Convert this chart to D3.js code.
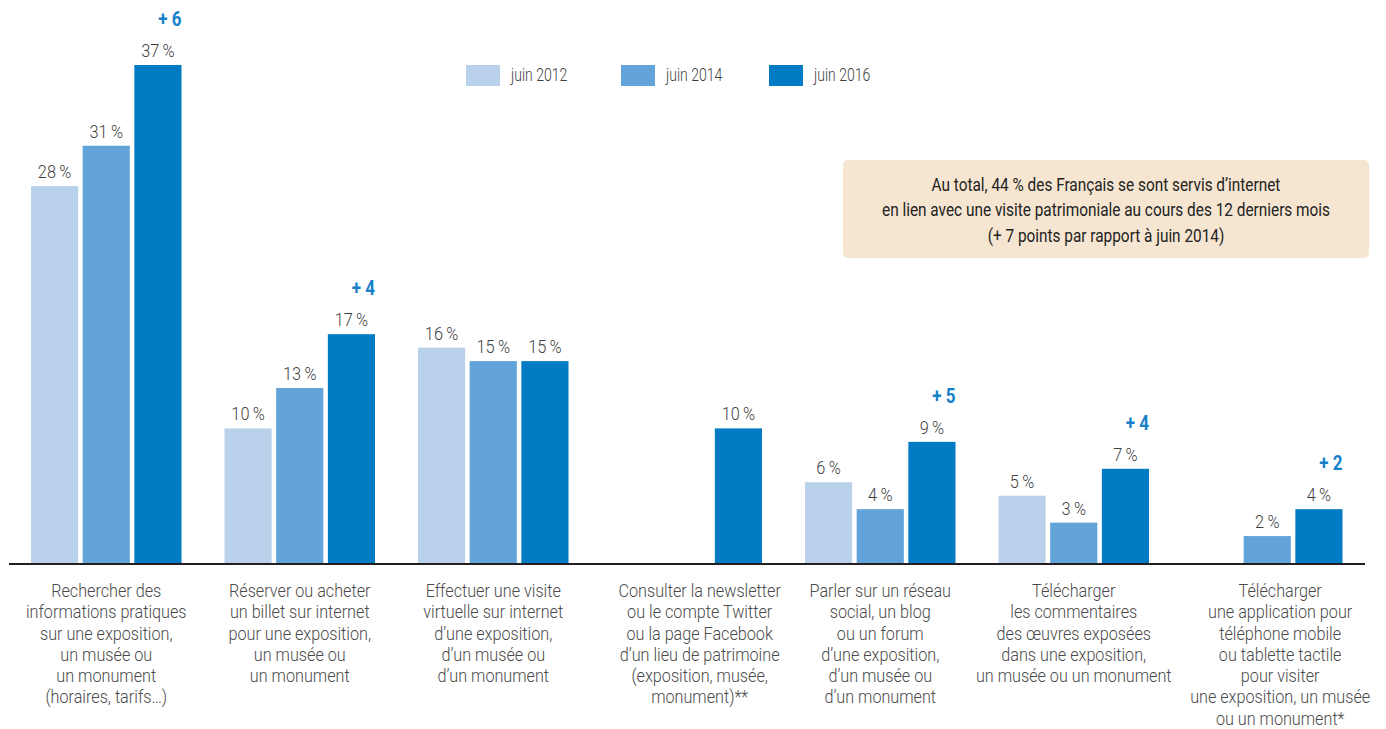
<!DOCTYPE html>
<html lang="fr">
<head>
<meta charset="utf-8">
<script src="https://cdn.jsdelivr.net/npm/d3@7"></script>
<style>
  html, body { margin: 0; padding: 0; background: #fff; }
  svg { display: block; font-family: Roboto, "DejaVu Sans", sans-serif; font-weight: 300; }
</style>
</head>
<body>
<svg id="chart" width="1386" height="729"></svg>
<script>
// Usages d'internet liés aux visites patrimoniales (% des Français)
const categories = [
  "Rechercher des\ninformations pratiques\nsur une exposition,\nun musée ou\nun monument\n(horaires, tarifs…)",
  "Réserver ou acheter\nun billet sur internet\npour une exposition,\nun musée ou\nun monument",
  "Effectuer une visite\nvirtuelle sur internet\nd’une exposition,\nd’un musée ou\nd’un monument",
  "Consulter la newsletter\nou le compte Twitter\nou la page Facebook\nd’un lieu de patrimoine\n(exposition, musée,\nmonument)**",
  "Parler sur un réseau\nsocial, un blog\nou un forum\nd’une exposition,\nd’un musée ou\nd’un monument",
  "Télécharger\nles commentaires\ndes œuvres exposées\ndans une exposition,\nun musée ou un monument",
  "Télécharger\nune application pour\ntéléphone mobile\nou tablette tactile\npour visiter\nune exposition, un musée\nou un monument*"
];
const seriesNames = ["juin 2012", "juin 2014", "juin 2016"];
const values2012 = [28, 10, 16, null, 6, 5, null];
const values2014 = [31, 13, 15, null, 4, 3, 2];
const values2016 = [37, 17, 15, 10, 9, 7, 4];
const gains = ["+ 6", "+ 4", null, null, "+ 5", "+ 4", "+ 2"];
const summary = [
  "Au total, 44 % des Français se sont servis d’internet",
  "en lien avec une visite patrimoniale au cours des 12 derniers mois",
  "(+ 7 points par rapport à juin 2014)"
];

const colors = ["#bad1ec", "#62a3d9", "#007bc4"];
const seriesValues = [values2012, values2014, values2016];

// the type face is a narrow grotesque: compress text horizontally
const place = (px, py, k = 0.9) => `translate(${px},${py}) scale(${k},1)`;

const svg = d3.select("#chart");
const baseY = 563;

const x = d3.scaleBand()
  .domain(d3.range(categories.length))
  .range([31, 1342.5])
  .paddingInner(0.2222)
  .paddingOuter(0);

const xs = d3.scaleBand()
  .domain(d3.range(seriesNames.length))
  .range([0, x.bandwidth()])
  .paddingInner(0.0874)
  .paddingOuter(0);

const y = d3.scaleLinear().domain([0, 40]).range([baseY, baseY - 40 * 13.46]);

const fmt = v => v + "\u2009%";

// bars
const groups = svg.append("g").selectAll("g")
  .data(categories.map((c, i) => i))
  .join("g")
  .attr("transform", i => `translate(${x(i)},0)`);

const present = i => seriesValues.map((vals, s) => ({ s, v: vals[i] })).filter(d => d.v != null);

groups.selectAll("rect")
  .data(present)
  .join("rect")
  .attr("x", d => xs(d.s))
  .attr("width", xs.bandwidth())
  .attr("y", d => y(d.v))
  .attr("height", d => y(0) - y(d.v))
  .attr("fill", d => colors[d.s]);

// value labels
groups.selectAll("text.val")
  .data(present)
  .join("text")
  .attr("class", "val")
  .attr("transform", d => place(xs(d.s) + xs.bandwidth() / 2, y(d.v) - 8, 0.86))
  .attr("text-anchor", "middle")
  .attr("font-size", 19)
  .attr("fill", "#3f3f3f")
  .text(d => fmt(d.v));

// gains between 2014 and 2016
groups.filter(i => gains[i] != null)
  .append("text")
  .attr("transform", i => place(xs(2) + xs.bandwidth(), y(values2016[i]) - 39, 0.85))
  .attr("text-anchor", "end")
  .attr("font-size", 20)
  .attr("font-weight", "bold")
  .attr("fill", "#1580c8")
  .text(i => gains[i]);

// baseline
svg.append("line")
  .attr("x1", 9).attr("x2", 1365)
  .attr("y1", baseY + 1).attr("y2", baseY + 1)
  .attr("stroke", "#231f20")
  .attr("stroke-width", 2);

// category labels (shifted right when the first series is absent)
const catLabels = svg.append("g").selectAll("text")
  .data(categories.map((c, i) => i))
  .join("text")
  .attr("text-anchor", "middle")
  .attr("font-size", 18)
  .attr("fill", "#4a4a4a")
  .attr("transform", i => {
    const shift = values2012[i] == null ? xs.step() / 4 : 0;
    return place(x(i) + x.bandwidth() / 2 + shift, 597);
  });

catLabels.selectAll("tspan")
  .data(i => categories[i].split("\n"))
  .join("tspan")
  .attr("x", 0)
  .attr("y", (d, k) => k * 21.3)
  .text(d => d);

// legend
const legend = svg.append("g").selectAll("g")
  .data(seriesNames)
  .join("g")
  .attr("transform", (d, i) => `translate(${[466, 621, 769][i]},65)`);
legend.append("rect")
  .attr("width", 34).attr("height", 21)
  .attr("fill", (d, i) => colors[i]);
legend.append("text")
  .attr("transform", place(45, 16, 0.74))
  .attr("font-size", 19)
  .attr("fill", "#3f3f3f")
  .text(d => d);

// summary box
const box = svg.append("g").attr("transform", "translate(843,160)");
box.append("rect")
  .attr("width", 526).attr("height", 98)
  .attr("rx", 5)
  .attr("fill", "#f6e6d1");
box.append("text")
  .attr("transform", place(263, 0, 0.81))
  .attr("text-anchor", "middle")
  .attr("font-size", 19)
  .attr("font-weight", 400)
  .attr("fill", "#222")
  .selectAll("tspan")
  .data(summary)
  .join("tspan")
  .attr("x", 0)
  .attr("y", (d, k) => 31 + k * 25.5)
  .text(d => d);
</script>
</body>
</html>
